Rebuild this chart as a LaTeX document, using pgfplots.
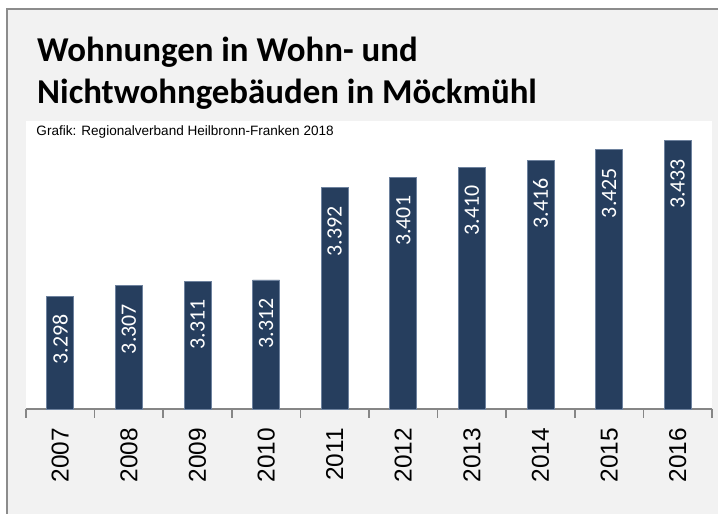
\documentclass[border=0pt]{standalone}
\usepackage{fontspec}
\setmainfont{Liberation Sans}
\newfontfamily\carlito{Carlito}
\usepackage{pgfplots}
\pgfplotsset{compat=1.18}
\definecolor{barblue}{RGB}{38,62,94}
\definecolor{baredge}{RGB}{110,130,158}
\definecolor{bggray}{RGB}{242,242,242}
\definecolor{framegray}{RGB}{140,140,140}
\definecolor{axisgray}{RGB}{134,134,134}

\begin{document}
\begin{tikzpicture}[x=1bp,y=1bp]
\useasboundingbox (0,0) rectangle (718,514);
\fill[white] (0,0) rectangle (718,514);
\fill[bggray] (7,0) rectangle (718,505);
\draw[framegray, line width=2bp] (7,-5) -- (7,505) -- (725,505);

% title and source line
\node[anchor=base west, inner sep=0pt, font=\carlito\bfseries\fontsize{35}{35}\selectfont] at (37,452) {Wohnungen in Wohn- und};
\node[anchor=base west, inner sep=0pt, font=\carlito\bfseries\fontsize{35}{35}\selectfont] at (37,410) {Nichtwohngebäuden in Möckmühl};

\begin{axis}[
    at={(26bp,105bp)}, anchor=south west,
    scale only axis,
    width=686bp, height=288bp,
    xmin=-0.5, xmax=9.5,
    ymin=3.2, ymax=3.45,
    axis background/.style={fill=white},
    axis x line*=bottom,
    axis y line=none,
    axis line style={draw=axisgray, line width=1.5bp, -},
    xtick={0,...,9},
    xticklabels={2007,2008,2009,2010,2011,2012,2013,2014,2015,2016},
    major tick length=0pt,
    minor xtick={-0.5,0.5,...,9.5},
    minor tick length=9bp,
    tick align=outside,
    minor x tick style={draw=axisgray, line width=1.5bp},
    xticklabel style={rotate=90, anchor=east, inner sep=0pt, font=\fontsize{24.5}{24.5}\selectfont},
    xticklabel shift=19bp,
    ybar, bar width=27bp, bar shift=0pt,
    point meta=explicit symbolic,
    nodes near coords,
    every node near coord/.append style={rotate=90, anchor=east, inner xsep=18bp, inner ysep=0pt,
        text=white, font=\carlito\fontsize{22}{22}\selectfont},
    clip=false,
]
\node[anchor=base west, inner sep=0pt, font=\fontsize{13.6}{13.6}\selectfont] at (rel axis cs:0.015,0) [yshift=273bp] {Grafik: Regionalverband Heilbronn-Franken 2018};
\addplot[fill=barblue, draw=baredge, line width=0.7bp] coordinates {
    (0,3.298) [3.298]
    (1,3.307) [3.307]
    (2,3.311) [3.311]
    (3,3.312) [3.312]
    (4,3.392) [3.392]
    (5,3.401) [3.401]
    (6,3.410) [3.410]
    (7,3.416) [3.416]
    (8,3.425) [3.425]
    (9,3.433) [3.433]
};
\end{axis}
\end{tikzpicture}
\end{document}
